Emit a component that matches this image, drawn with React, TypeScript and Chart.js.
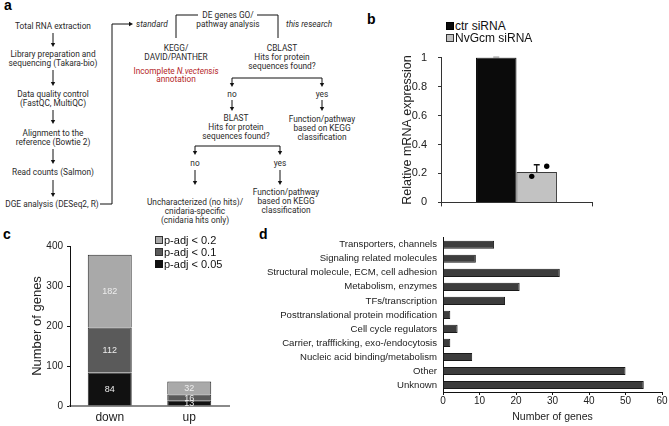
import React, { useEffect, useRef } from "react";
import { Chart, registerables } from "chart.js";
Chart.register(...registerables);

const SANS = "'Liberation Sans', Arial, sans-serif";
const FLOW = "Roboto, 'Liberation Sans', sans-serif";

// ---- panel b data
const knockdownLabels = ["ctr siRNA", "NvGcm siRNA"];
const knockdownMeans = [1, 0.21];
const knockdownErrors = [0.003, 0.05];
const knockdownReplicates = [[], [0.18, 0.25]];
const knockdownColors = ["#0b0b0b", "#c2c2c2"];

// ---- panel c data
const regulationCategories = ["down", "up"];
const padjLabels = ["p-adj < 0.05", "p-adj < 0.1", "p-adj < 0.2"];
const padj005 = [84, 13];
const padj01 = [112, 16];
const padj02 = [182, 32];
const padjColors = ["#111111", "#5a5a5a", "#a9a9a9"];

// ---- panel d data
const functionCategories = [
  "Transporters, channels",
  "Signaling related molecules",
  "Structural molecule, ECM, cell adhesion",
  "Metabolism, enzymes",
  "TFs/transcription",
  "Posttranslational protein modification",
  "Cell cycle regulators",
  "Carrier, traffficking, exo-/endocytosis",
  "Nucleic acid binding/metabolism",
  "Other",
  "Unknown",
];
const functionCounts = [14, 9, 32, 21, 17, 2, 4, 2, 8, 50, 55];

const errorPlugin = {
  id: "errorBars",
  afterDatasetsDraw(chart: any) {
    const ctx = chart.ctx;
    const yScale = chart.scales.y;
    const jitter = [-5, 10];
    knockdownMeans.forEach((m, i) => {
      const el = chart.getDatasetMeta(i).data[0];
      if (!el) return;
      const x = el.x;
      const yMid = yScale.getPixelForValue(m);
      const yTop = yScale.getPixelForValue(m + knockdownErrors[i]);
      ctx.save();
      ctx.strokeStyle = i === 0 ? "#9a9a9a" : "#111";
      ctx.lineWidth = 1.3;
      ctx.beginPath();
      ctx.moveTo(x, yMid);
      ctx.lineTo(x, yTop);
      ctx.moveTo(x - 3, yTop);
      ctx.lineTo(x + 3, yTop);
      ctx.stroke();
      ctx.fillStyle = "#000";
      knockdownReplicates[i].forEach((v, k) => {
        ctx.beginPath();
        ctx.arc(x + jitter[k % jitter.length], yScale.getPixelForValue(v), 2.7, 0, Math.PI * 2);
        ctx.fill();
      });
      ctx.restore();
    });
  },
};

const stackLabelPlugin = {
  id: "stackLabels",
  afterDatasetsDraw(chart: any) {
    const ctx = chart.ctx;
    ctx.save();
    ctx.font = `9px ${SANS}`;
    ctx.fillStyle = "#ededed";
    ctx.textAlign = "center";
    ctx.textBaseline = "middle";
    chart.data.datasets.forEach((ds: any, i: number) => {
      const meta = chart.getDatasetMeta(i);
      meta.data.forEach((el: any, j: number) => {
        const { x, y, base } = el.getProps(["x", "y", "base"], true);
        ctx.fillText(String(ds.data[j]), x, (y + base) / 2 + 0.5);
      });
    });
    ctx.restore();
  },
};

function PanelB() {
  const ref = useRef<HTMLCanvasElement>(null);
  useEffect(() => {
    const chart = new Chart(ref.current!, {
      type: "bar",
      data: {
        labels: [""],
        datasets: knockdownLabels.map((l, i) => ({
          label: l,
          data: [knockdownMeans[i]],
          backgroundColor: knockdownColors[i],
          borderColor: i === 0 ? "#000" : "#3a3a3a",
          borderWidth: 1,
          barPercentage: 1,
          categoryPercentage: 0.536,
        })),
      },
      options: {
        animation: false,
        responsive: false,
        layout: { padding: { top: 12, right: 13, bottom: 10, left: 0 } },
        plugins: { legend: { display: false }, tooltip: { enabled: false } },
        scales: {
          x: {
            grid: { drawOnChartArea: false, drawTicks: true, tickLength: 4, color: "#333" },
            border: { color: "#333" },
            ticks: { display: false },
            afterFit: (s: any) => { s.height = 4; },
          },
          y: {
            min: 0,
            max: 1,
            ticks: {
              stepSize: 0.2,
              font: { size: 11, family: SANS },
              color: "#222",
              padding: 11,
              callback: (v: any) => String(Number(Number(v).toFixed(1))),
            },
            grid: { drawOnChartArea: false, tickLength: 3, color: "#333" },
            border: { color: "#333" },
            title: {
              display: true,
              text: "Relative mRNA expression",
              font: { size: 12.5, family: SANS },
              color: "#222",
              padding: { top: 5, bottom: 0 },
            },
            afterFit: (s: any) => { s.width = 46; },
          },
        },
      } as any,
      plugins: [errorPlugin],
    });
    return () => chart.destroy();
  }, []);
  return <canvas ref={ref} width={210} height={180} style={{ position: "absolute", left: 395, top: 40, width: 210, height: 180 }} />;
}

function PanelC() {
  const ref = useRef<HTMLCanvasElement>(null);
  useEffect(() => {
    const series = [padj005, padj01, padj02];
    const chart = new Chart(ref.current!, {
      type: "bar",
      data: {
        labels: regulationCategories,
        datasets: series.map((d, i) => ({
          label: padjLabels[i],
          data: d,
          backgroundColor: padjColors[i],
          borderColor: "#2a2a2a",
          borderWidth: 1,
          barPercentage: 0.553,
          categoryPercentage: 1,
        })),
      },
      options: {
        animation: false,
        responsive: false,
        layout: { padding: { top: 14, right: 6, bottom: 0, left: 0 } },
        plugins: { legend: { display: false }, tooltip: { enabled: false } },
        scales: {
          x: {
            stacked: true,
            grid: { display: false, drawTicks: false },
            border: { color: "#8a8a8a", width: 2 },
            ticks: { font: { size: 12, family: SANS }, color: "#222", padding: 4 },
            afterFit: (s: any) => { s.height = 20; },
          },
          y: {
            stacked: true,
            min: 0,
            max: 400,
            ticks: { stepSize: 100, font: { size: 10, family: SANS }, color: "#222", padding: 4 },
            grid: { drawOnChartArea: false, tickLength: 3, color: "#111" },
            border: { color: "#111" },
            title: {
              display: true,
              text: "Number of genes",
              font: { size: 13, family: SANS },
              color: "#222",
              padding: { top: 10, bottom: 0 },
            },
            afterFit: (s: any) => { s.width = 50; },
          },
        },
      } as any,
      plugins: [stackLabelPlugin],
    });
    return () => chart.destroy();
  }, []);
  return <canvas ref={ref} width={215} height={194} style={{ position: "absolute", left: 20, top: 232, width: 215, height: 194 }} />;
}

function PanelD() {
  const ref = useRef<HTMLCanvasElement>(null);
  useEffect(() => {
    const chart = new Chart(ref.current!, {
      type: "bar",
      data: {
        labels: functionCategories,
        datasets: [
          {
            label: "Number of genes",
            data: functionCounts,
            backgroundColor: "#3d3d3d",
            borderColor: "#1a1a1a",
            borderWidth: 1,
            barPercentage: 0.58,
            categoryPercentage: 1,
          },
        ],
      },
      options: {
        indexAxis: "y",
        animation: false,
        responsive: false,
        layout: { padding: { top: 9.4, right: 7, bottom: 0, left: 0 } },
        plugins: { legend: { display: false }, tooltip: { enabled: false } },
        scales: {
          x: {
            min: 0,
            max: 60,
            ticks: { stepSize: 10, font: { size: 10, family: SANS }, color: "#222", padding: 0 },
            grid: { drawOnChartArea: false, tickLength: 3, color: "#111" },
            border: { color: "#111" },
            title: {
              display: true,
              text: "Number of genes",
              font: { size: 10.5, family: SANS },
              color: "#222",
              padding: { top: 0, bottom: 3 },
            },
            afterFit: (s: any) => { s.height = 34; },
          },
          y: {
            grid: { display: false, drawTicks: false },
            border: { color: "#111" },
            ticks: { font: { size: 9.6, family: SANS }, color: "#222", padding: 6, autoSkip: false },
            afterFit: (s: any) => { s.width = 203; },
          },
        },
      } as any,
    });
    return () => chart.destroy();
  }, []);
  return <canvas ref={ref} width={429} height={200} style={{ position: "absolute", left: 240, top: 226, width: 429, height: 200 }} />;
}

function T({ x, y, lines, lh = 9, fill = "#2a2a2a", italic = false, anchor = "middle" }: any) {
  return (
    <>
      {lines.map((l: any, i: number) => (
        <text
          key={i}
          x={x}
          y={y + i * lh}
          textAnchor={anchor}
          dominantBaseline="central"
          fill={fill}
          fontStyle={italic ? "italic" : "normal"}
          fontFamily={FLOW}
          fontSize={8.3}
        >
          {l}
        </text>
      ))}
    </>
  );
}

function ArrowDown({ x, y1, y2 }: any) {
  return (
    <g>
      <line x1={x} y1={y1} x2={x} y2={y2 - 3} stroke="#111" strokeWidth={1} />
      <polygon points={`${x - 2.2},${y2 - 4} ${x + 2.2},${y2 - 4} ${x},${y2}`} fill="#111" />
    </g>
  );
}

function Flowchart() {
  return (
    <svg width={669} height={426} style={{ position: "absolute", left: 0, top: 0 }}>
      <T x={53} y={26} lines={["Total RNA extraction"]} />
      <ArrowDown x={53} y1={33} y2={47} />
      <T x={53} y={54} lines={["Library preparation and", "sequencing (Takara-bio)"]} />
      <ArrowDown x={53} y1={70} y2={86} />
      <T x={53} y={94} lines={["Data quality control", "(FastQC, MultiQC)"]} />
      <ArrowDown x={53} y1={110} y2={124} />
      <T x={53} y={133} lines={["Alignment to the", "reference (Bowtie 2)"]} />
      <ArrowDown x={53} y1={149} y2={164} />
      <T x={53} y={172} lines={["Read counts (Salmon)"]} />
      <ArrowDown x={53} y1={180} y2={197} />
      <T x={52} y={204} lines={["DGE analysis (DESeq2, R)"]} />
      <polyline points="100,204 112,204 112,24 130,24" fill="none" stroke="#111" strokeWidth={1} />
      <polygon points="129,21.8 129,26.2 133,24" fill="#111" />
      <T x={136} y={24} lines={["standard"]} italic anchor="start" />

      <T x={228} y={15} lines={["DE genes GO/", "pathway analysis"]} />
      <polyline points="198,15 176,15 176,38" fill="none" stroke="#111" strokeWidth={1} />
      <polyline points="257,15 278,15 278,38" fill="none" stroke="#111" strokeWidth={1} />
      <T x={286} y={24} lines={["this research"]} italic anchor="start" />

      <T x={176} y={48} lines={["KEGG/", "DAVID/PANTHER"]} />
      <text x={176} y={71} textAnchor="middle" dominantBaseline="central" fill="#b5282a" fontFamily={FLOW} fontSize={8.3}>
        Incomplete <tspan fontStyle="italic">N.vectensis</tspan>
      </text>
      <T x={176} y={79} lines={["annotation"]} fill="#b5282a" />

      <T x={282} y={48} lines={["CBLAST", "Hits for protein", "sequences found?"]} />
      <line x1={232} y1={78} x2={322} y2={78} stroke="#111" strokeWidth={1} />
      <ArrowDown x={232} y1={78} y2={87} />
      <ArrowDown x={322} y1={78} y2={87} />
      <T x={232} y={94} lines={["no"]} />
      <T x={322} y={94} lines={["yes"]} />
      <ArrowDown x={232} y1={100} y2={111} />
      <ArrowDown x={322} y1={100} y2={111} />
      <T x={236} y={118} lines={["BLAST", "Hits for protein", "sequences found?"]} />
      <T x={322} y={119} lines={["Function/pathway", "based on KEGG", "classification"]} />

      <line x1={195} y1={146} x2={280} y2={146} stroke="#111" strokeWidth={1} />
      <ArrowDown x={195} y1={146} y2={155} />
      <ArrowDown x={280} y1={146} y2={155} />
      <T x={195} y={163} lines={["no"]} />
      <T x={280} y={163} lines={["yes"]} />
      <ArrowDown x={195} y1={170} y2={185} />
      <ArrowDown x={280} y1={170} y2={185} />
      <T x={195} y={202} lines={["Uncharacterized (no hits)/", "cnidaria-specific", "(cnidaria hits only)"]} />
      <T x={286} y={192} lines={["Function/pathway", "based on KEGG", "classification"]} />
    </svg>
  );
}

function PanelLetter({ ch, x, y }: any) {
  return (
    <div style={{ position: "absolute", left: x, top: y, fontFamily: SANS, fontWeight: 700, fontSize: 14, lineHeight: "14px" }}>
      {ch}
    </div>
  );
}

function LegendRow({ x, y, color, border, text, size }: any) {
  return (
    <div style={{ position: "absolute", left: x, top: y - 7, height: 14, display: "flex", alignItems: "center", whiteSpace: "nowrap", fontFamily: SANS, fontSize: size, color: "#111", lineHeight: "14px" }}>
      <span style={{ display: "inline-block", width: 6, height: 6, background: color, border: `1px solid ${border}`, marginRight: 1 }} />
      <span>{text}</span>
    </div>
  );
}

export default function App() {
  return (
    <div style={{ position: "absolute", left: 0, top: 0, width: 669, height: 426, background: "#fff", overflow: "hidden" }}>
      <Flowchart />
      <PanelLetter ch="a" x={4} y={-2} />
      <PanelLetter ch="b" x={367} y={12} />
      <PanelLetter ch="c" x={3} y={227} />
      <PanelLetter ch="d" x={259} y={227} />
      <PanelB />
      <PanelC />
      <PanelD />
      <LegendRow x={446} y={26} color={knockdownColors[0]} border="#000" text={knockdownLabels[0]} size={12} />
      <LegendRow x={446} y={38} color={knockdownColors[1]} border="#333" text={knockdownLabels[1]} size={12} />
      <LegendRow x={155} y={240} color={padjColors[2]} border="#333" text={padjLabels[2]} size={11} />
      <LegendRow x={155} y={252} color={padjColors[1]} border="#333" text={padjLabels[1]} size={11} />
      <LegendRow x={155} y={264} color={padjColors[0]} border="#111" text={padjLabels[0]} size={11} />
    </div>
  );
}
